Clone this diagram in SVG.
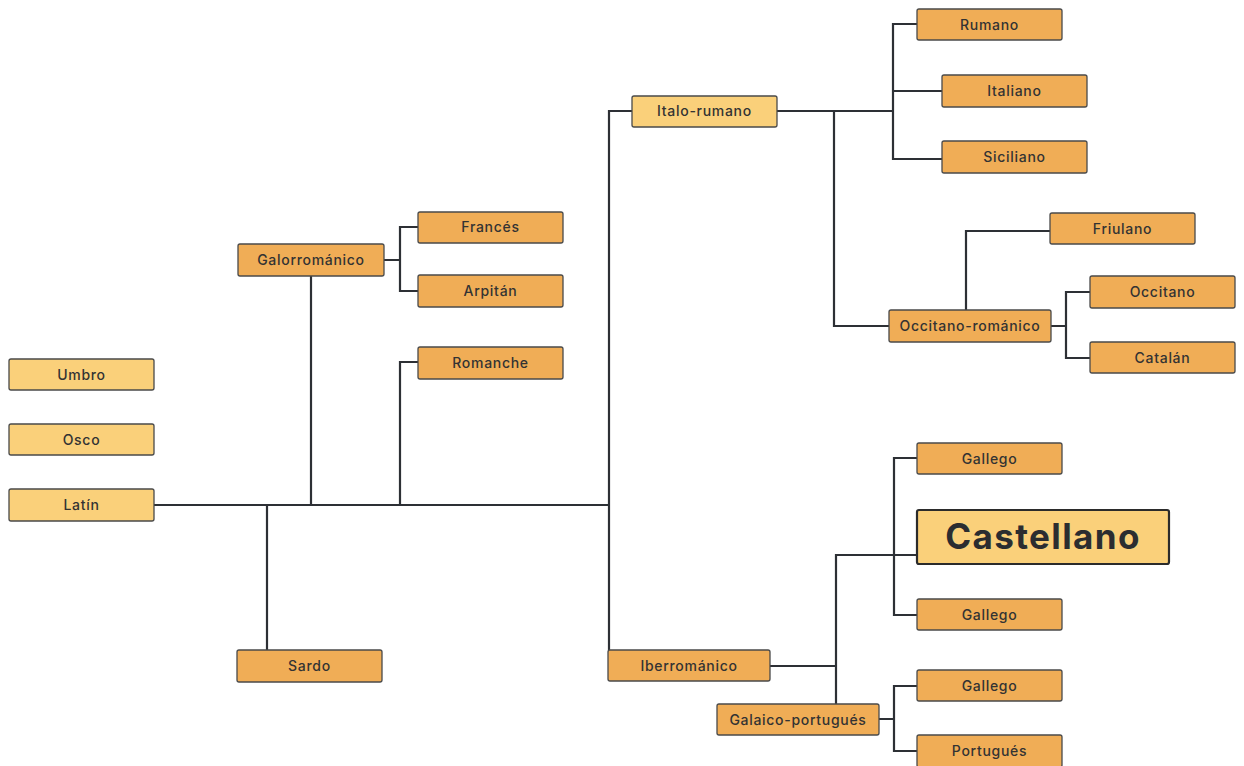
<svg xmlns="http://www.w3.org/2000/svg" width="1244" height="766" viewBox="0 0 1244 766">
<style>
.n rect{stroke:#4a4a4a;stroke-width:1.3}
.y rect{fill:#FAD07A}
.o rect{fill:#F0AD56}
.n text{font-family:Inter,"Noto Sans","Liberation Sans",sans-serif;font-size:14px;font-weight:500;letter-spacing:0.7px;fill:#333;text-anchor:middle}
.c path{fill:none;stroke:#2d3035;stroke-width:2.2}
</style>
<rect width="1244" height="766" fill="#fff"/>
<g class="c" id="connectors">
<path d="M154,505 H609"/>
<path d="M267,505 V650"/>
<path d="M311,276 V505"/>
<path d="M384,260 H400 M418,227 H400 V291 H418"/>
<path d="M418,362 H400 V505"/>
<path d="M632,111 H609 V650"/>
<path d="M777,111 H893 M917,24 H893 V159 H942 M893,91 H942"/>
<path d="M834,111 V326 H889"/>
<path d="M966,310 V231 H1050"/>
<path d="M1051,326 H1066 M1090,292 H1066 V358 H1090"/>
<path d="M770,666 H836 M836,704 V555 H917"/>
<path d="M917,458 H894 V615 H917"/>
<path d="M879,719 H894 M917,686 H894 V751 H917"/>
</g>
<g id="umbro" class="n y"><rect x="9" y="359" width="145" height="31" rx="2"/><text x="81.5" y="379.5">Umbro</text></g>
<g id="osco" class="n y"><rect x="9" y="424" width="145" height="31" rx="2"/><text x="81.5" y="444.5">Osco</text></g>
<g id="latin" class="n y"><rect x="9" y="489" width="145" height="32" rx="2"/><text x="81.5" y="510">Latín</text></g>
<g id="sardo" class="n o"><rect x="237" y="650" width="145" height="32" rx="2"/><text x="309.5" y="671">Sardo</text></g>
<g id="galorromanico" class="n o"><rect x="238" y="244" width="146" height="32" rx="2"/><text x="311" y="265">Galorrománico</text></g>
<g id="frances" class="n o"><rect x="418" y="212" width="145" height="31" rx="2"/><text x="490.5" y="232">Francés</text></g>
<g id="arpitan" class="n o"><rect x="418" y="275" width="145" height="32" rx="2"/><text x="490.5" y="296">Arpitán</text></g>
<g id="romanche" class="n o"><rect x="418" y="347" width="145" height="32" rx="2"/><text x="490.5" y="368">Romanche</text></g>
<g id="italo-rumano" class="n y"><rect x="632" y="96" width="145" height="31" rx="2"/><text x="704.5" y="116">Italo-rumano</text></g>
<g id="rumano" class="n o"><rect x="917" y="9" width="145" height="31" rx="2"/><text x="989.5" y="29.5">Rumano</text></g>
<g id="italiano" class="n o"><rect x="942" y="75" width="145" height="32" rx="2"/><text x="1014.5" y="96">Italiano</text></g>
<g id="siciliano" class="n o"><rect x="942" y="141" width="145" height="32" rx="2"/><text x="1014.5" y="162">Siciliano</text></g>
<g id="friulano" class="n o"><rect x="1050" y="213" width="145" height="31" rx="2"/><text x="1122.5" y="233.5">Friulano</text></g>
<g id="occitano-romanico" class="n o"><rect x="889" y="310" width="162" height="32" rx="2"/><text x="970" y="331">Occitano-románico</text></g>
<g id="occitano" class="n o"><rect x="1090" y="276" width="145" height="32" rx="2"/><text x="1162.5" y="297">Occitano</text></g>
<g id="catalan" class="n o"><rect x="1090" y="342" width="145" height="31" rx="2"/><text x="1162.5" y="362.5">Catalán</text></g>
<g id="iberromanico" class="n o"><rect x="608" y="650" width="162" height="31" rx="2"/><text x="689" y="670.5">Iberrománico</text></g>
<g id="galaico-portugues" class="n o"><rect x="717" y="704" width="162" height="31" rx="2"/><text x="798" y="724.5">Galaico-portugués</text></g>
<g id="gallego1" class="n o"><rect x="917" y="443" width="145" height="31" rx="2"/><text x="989.5" y="463.5">Gallego</text></g>
<g id="castellano" class="n y"><rect x="917" y="510" width="252" height="54" rx="2" style="stroke:#2b2b2b;stroke-width:2.2"/><text x="1043" y="549" style="font-size:35px;font-weight:700;letter-spacing:1.4px;fill:#2b2d30">Castellano</text></g>
<g id="gallego2" class="n o"><rect x="917" y="599" width="145" height="31" rx="2"/><text x="989.5" y="619.5">Gallego</text></g>
<g id="gallego3" class="n o"><rect x="917" y="670" width="145" height="31" rx="2"/><text x="989.5" y="690.5">Gallego</text></g>
<g id="portugues" class="n o"><rect x="917" y="735" width="145" height="32" rx="2"/><text x="989.5" y="756">Portugués</text></g>
</svg>
